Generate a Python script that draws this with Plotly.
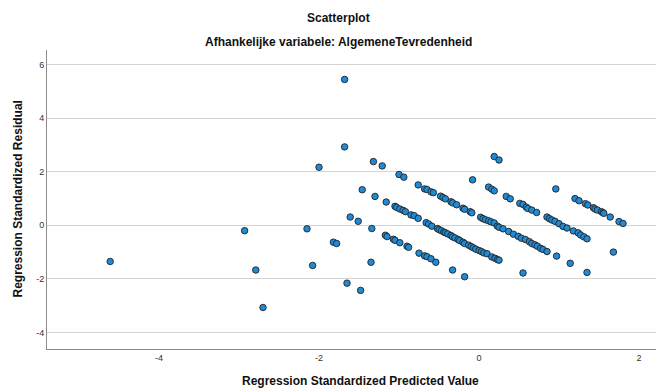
import plotly.graph_objects as go

# Regression Standardized Predicted Value (x) and Residual (y)
pred = [
    -4.61, -2.93, -2.79, -2.70, -2.00, -2.15, -2.08, -1.82, -1.78, -1.68, -1.68,
    -1.32, -1.21, -1.61, -1.51, -1.34, -1.35, -1.65, -1.48, -1.46, -1.30, -1.16,
    # top band
    -1.00, -0.94, -0.76, -0.68, -0.65, -0.60, -0.57, -0.48, -0.45, -0.42, -0.35,
    -0.33, -0.28, -0.20, -0.18, -0.11, -0.09,
    # upper-right bands
    0.12, 0.16, 0.19, 0.34, 0.39, 0.51, 0.55, 0.59, 0.61, 0.66, 0.72,
    -0.08, 0.19, 0.25, 0.96,
    1.20, 1.25, 1.33, 1.36, 1.43, 1.45, 1.48, 1.53, 1.55, 1.56, 1.64, 1.75, 1.80,
    # middle band
    -1.05, -1.03, -0.99, -0.95, -0.92, -0.85, -0.81, -0.76, -0.66, -0.63, -0.59,
    -0.52, -0.50, -0.47, -0.44, -0.42, -0.39, -0.35, -0.33, -0.30, -0.26, -0.24,
    -0.20, -0.18, -0.13, -0.10, -0.07, -0.04, 0.00, 0.03, 0.06, 0.10,
    0.16, 0.20, 0.23, 0.25,
    # second middle band
    0.02, 0.05, 0.08, 0.12, 0.15, 0.19, 0.23, 0.25, 0.30, 0.37, 0.43, 0.49, 0.53,
    0.58, 0.63, 0.66, 0.70, 0.73, 0.77, 0.80, 0.85,
    # right middle band
    0.85, 0.88, 0.91, 0.95, 1.00, 1.05, 1.10, 1.18, 1.24, 1.27, 1.31, 1.35,
    # lower band
    -1.17, -1.15, -1.07, -1.05, -0.99, -0.90, -0.88, -0.75, -0.68, -0.65, -0.60, -0.54,
    # isolated low points
    -0.33, -0.18, 0.97, 1.14, 0.55, 1.68, 1.35,
]
resid = [
    -1.35, -0.20, -1.67, -3.07, 2.17, -0.13, -1.50, -0.63, -0.68, 5.45, 2.93,
    2.38, 2.22, 0.31, 0.15, -0.12, -1.38, -2.16, -2.43, 1.33, 1.08, 0.87,
    1.90, 1.80, 1.51, 1.36, 1.34, 1.25, 1.22, 1.09, 1.04, 0.99, 0.88,
    0.84, 0.77, 0.64, 0.60, 0.51, 0.47,
    1.43, 1.35, 1.29, 1.08, 0.99, 0.82, 0.78, 0.68, 0.63, 0.57, 0.48,
    1.70, 2.57, 2.44, 1.36,
    1.00, 0.92, 0.81, 0.76, 0.66, 0.61, 0.57, 0.51, 0.47, 0.45, 0.31, 0.14, 0.07,
    0.71, 0.67, 0.61, 0.56, 0.51, 0.39, 0.36, 0.26, 0.10, 0.05, -0.03,
    -0.12, -0.16, -0.20, -0.25, -0.28, -0.32, -0.38, -0.43, -0.47, -0.53, -0.57,
    -0.63, -0.68, -0.74, -0.79, -0.84, -0.89, -0.94, -0.98, -1.03, -1.06,
    -1.18, -1.23, -1.28, -1.30,
    0.30, 0.25, 0.21, 0.17, 0.13, 0.09, -0.03, -0.07, -0.13, -0.23, -0.33, -0.41, -0.48,
    -0.53, -0.61, -0.68, -0.73, -0.78, -0.86, -0.90, -0.98,
    0.31, 0.25, 0.20, 0.15, 0.06, -0.04, -0.10, -0.21, -0.28, -0.36, -0.43, -0.50,
    -0.37, -0.42, -0.52, -0.56, -0.65, -0.78, -0.82, -1.04, -1.14, -1.17, -1.25, -1.38,
    -1.67, -1.92, -1.15, -1.42, -1.78, -1.00, -1.76,
]

y_ticks = [-4, -2, 0, 2, 4, 6]
x_ticks = [-4, -2, 0, 2]

title = "Scatterplot"
subtitle = "Afhankelijke variabele: AlgemeneTevredenheid"
x_title = "Regression Standardized Predicted Value"
y_title = "Regression Standardized Residual"

FONT = "Liberation Sans, Arial, sans-serif"

fig = go.Figure()
fig.add_trace(go.Scatter(
    x=pred, y=resid, mode="markers",
    marker=dict(size=6.5, color="#1f8ad6", line=dict(color="#222222", width=0.9)),
    showlegend=False, hoverinfo="x+y",
))

# The page adds an 8px body margin, so the figure is 8px smaller and shifted.
fig.update_layout(
    width=656, height=381,
    margin=dict(l=39, r=1, t=42, b=40),
    paper_bgcolor="white", plot_bgcolor="white",
    font=dict(family=FONT, color="#222222"),
    xaxis=dict(
        range=[-5.4, 2.3], tickvals=x_ticks, ticktext=[str(v) for v in x_ticks],
        showgrid=False, zeroline=False, showline=True, linecolor="#8c8c8c", linewidth=1,
        ticks="", tickfont=dict(size=9, color="#333333", family=FONT),
    ),
    yaxis=dict(
        range=[-4.62, 6.55], tickvals=y_ticks, ticktext=[str(v) for v in y_ticks],
        showgrid=True, gridcolor="#d4d4d4", gridwidth=1, zeroline=False,
        showline=True, linecolor="#8c8c8c", linewidth=1,
        ticks="", tickfont=dict(size=9, color="#333333", family=FONT),
    ),
    annotations=[
        dict(text="<b>%s</b>" % title, xref="paper", yref="paper",
             x=(330 - 39) / 616, y=1, yshift=32, xanchor="center", yanchor="middle",
             showarrow=False, font=dict(size=12, family=FONT, color="#111111")),
        dict(text="<b>%s</b>" % subtitle, xref="paper", yref="paper",
             x=(330 - 39) / 616, y=1, yshift=8, xanchor="center", yanchor="middle",
             showarrow=False, font=dict(size=12, family=FONT, color="#111111")),
        dict(text="<b>%s</b>" % x_title, xref="paper", yref="paper",
             x=(352 - 39) / 616, y=0, yshift=-32, xanchor="center", yanchor="middle",
             showarrow=False, font=dict(size=12, family=FONT, color="#111111")),
        dict(text="<b>%s</b>" % y_title, xref="paper", yref="paper",
             x=0, xshift=-30, y=0.5, textangle=-90, xanchor="center", yanchor="middle",
             showarrow=False, font=dict(size=12, family=FONT, color="#111111")),
    ],
)

fig.write_html("out.html")
